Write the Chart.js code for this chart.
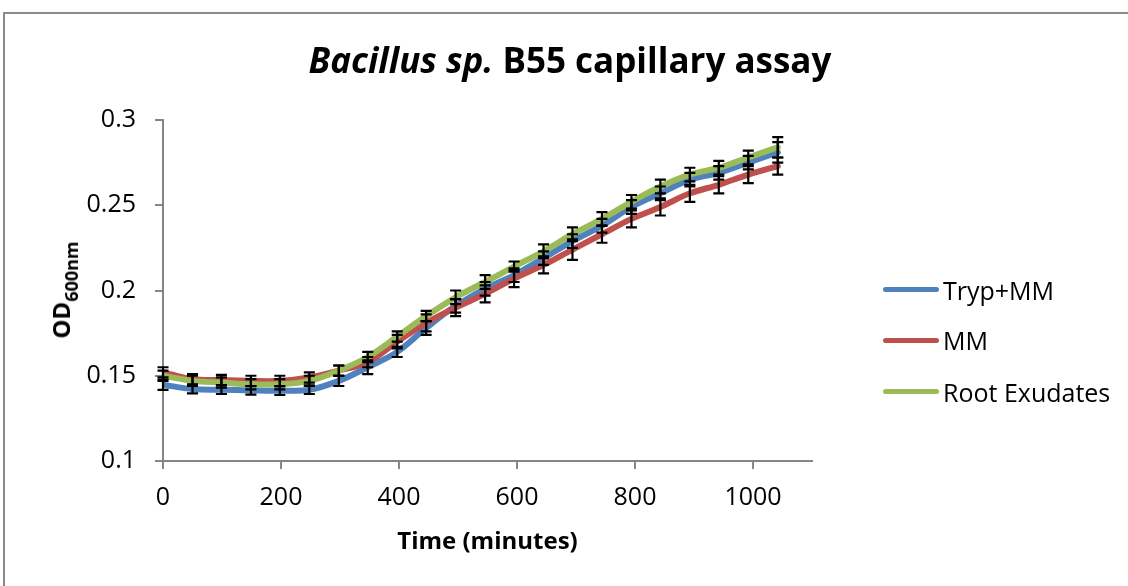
<!DOCTYPE html>
<html>
<head>
<meta charset="utf-8">
<title>Bacillus sp. B55 capillary assay</title>
<script src="https://cdn.jsdelivr.net/npm/chart.js@4.4.1/dist/chart.umd.min.js"></script>
<style>
  html, body { margin: 0; padding: 0; background: #fff; }
  body { width: 1128px; height: 586px; overflow: hidden; position: relative; font-family: 'Open Sans', sans-serif; color: #000; }
  #frame { position: absolute; left: 3px; top: 12px; width: 1200px; height: 700px; border: 2px solid #8a8a8a; box-sizing: border-box; }
  #wrap { position: absolute; left: 0; top: 0; width: 1128px; height: 586px; }
  #title { position: absolute; left: 0; top: 40px; width: 1140px; text-align: center; font-size: 35px; font-weight: bold; line-height: 40px; white-space: nowrap; }
  #ytitle { position: absolute; left: 62px; top: 290px; transform: translate(-50%, -50%) rotate(-90deg); font-size: 24px; font-weight: bold; line-height: 30px; white-space: nowrap; }
  #ytitle span { font-size: 18px; position: relative; top: 8px; }
  .item { position: absolute; left: 883px; height: 40px; display: flex; align-items: center; font-size: 25px; line-height: 40px; white-space: nowrap; }
  .item i { display: inline-block; width: 56px; height: 5px; border-radius: 3px; margin-right: 4px; }
</style>
</head>
<body>
<div id="frame"></div>
<div id="wrap"><canvas id="chart"></canvas></div>
<div id="title"><i>Bacillus sp.</i> B55 capillary assay</div>
<div id="ytitle">OD<span>600nm</span></div>
<div id="legend"></div>
<script>
// Temps de mesure (minutes)
const times = [0, 50, 99, 149, 198, 248, 298, 347, 397, 446, 496, 546, 595, 645, 694, 744, 794, 843, 893, 942, 992, 1042];

// Series (OD600nm)
const trypMM = [0.1447, 0.1422, 0.1418, 0.1414, 0.1412, 0.1418, 0.147, 0.155, 0.164, 0.178, 0.191, 0.201, 0.209, 0.219, 0.229, 0.238, 0.249, 0.257, 0.265, 0.269, 0.275, 0.281];
const mm = [0.152, 0.148, 0.1475, 0.147, 0.147, 0.149, 0.153, 0.158, 0.170, 0.181, 0.190, 0.198, 0.207, 0.215, 0.224, 0.233, 0.242, 0.249, 0.257, 0.262, 0.268, 0.273];
const rootExudates = [0.150, 0.147, 0.146, 0.145, 0.145, 0.147, 0.153, 0.161, 0.173, 0.185, 0.196, 0.205, 0.214, 0.223, 0.233, 0.242, 0.252, 0.261, 0.268, 0.272, 0.278, 0.284];

// Barres d'erreur (+/-)
const trypErr = [0.003, 0.0025, 0.0025, 0.0025, 0.0025, 0.0025, 0.003, 0.004, 0.003, 0.004, 0.004, 0.004, 0.004, 0.004, 0.004, 0.004, 0.004, 0.004, 0.004, 0.004, 0.004, 0.006];
const mmErr = [0.003, 0.003, 0.003, 0.003, 0.003, 0.003, 0.003, 0.003, 0.004, 0.005, 0.005, 0.005, 0.005, 0.005, 0.006, 0.005, 0.005, 0.005, 0.005, 0.005, 0.005, 0.005];
const rootErr = [0.003, 0.003, 0.003, 0.003, 0.003, 0.003, 0.003, 0.003, 0.003, 0.003, 0.004, 0.004, 0.003, 0.004, 0.004, 0.004, 0.004, 0.004, 0.004, 0.004, 0.004, 0.006];

const seriesNames = ['Tryp+MM', 'MM', 'Root Exudates'];
const seriesColors = ['#4F81BD', '#C0504D', '#9BBB59'];

const xTicks = [0, 200, 400, 600, 800, 1000];
const yTicks = [0.1, 0.15, 0.2, 0.25, 0.3];

Chart.defaults.font.family = "'Open Sans', sans-serif";
Chart.defaults.color = '#000';

function toPoints(values) {
    return values.map((v, i) => ({ x: times[i], y: v }));
}

// Plugin: barres d'erreur noires avec petits traits
const errorBars = {
    id: 'errorBars',
    afterDatasetsDraw(chart) {
        const ctx = chart.ctx;
        const xs = chart.scales.x;
        const ys = chart.scales.y;
        ctx.save();
        ctx.strokeStyle = '#000';
        ctx.lineWidth = 2.2;
        chart.data.datasets.forEach((ds, i) => {
            if (!chart.isDatasetVisible(i)) return;
            ds.data.forEach((pt, j) => {
                const e = ds.errors[j];
                const x = xs.getPixelForValue(pt.x);
                const top = ys.getPixelForValue(pt.y + e);
                const bot = ys.getPixelForValue(pt.y - e);
                ctx.beginPath();
                ctx.moveTo(x, top); ctx.lineTo(x, bot);
                ctx.moveTo(x - 5.5, top); ctx.lineTo(x + 5.5, top);
                ctx.moveTo(x - 5.5, bot); ctx.lineTo(x + 5.5, bot);
                ctx.stroke();
            });
        });
        ctx.restore();
    }
};

const values = [trypMM, mm, rootExudates];
const errors = [trypErr, mmErr, rootErr];

const ctx = document.getElementById('chart').getContext('2d');
new Chart(ctx, {
    type: 'line',
    data: {
        datasets: seriesNames.map((name, i) => ({
            label: name,
            data: toPoints(values[i]),
            errors: errors[i],
            borderColor: seriesColors[i],
            backgroundColor: seriesColors[i],
            borderWidth: 6,
            borderCapStyle: 'round',
            pointRadius: 0,
            tension: 0.35,
            order: 2 - i
        }))
    },
    options: {
        responsive: true,
        maintainAspectRatio: false,
        animation: false,
        layout: { padding: { left: 0, top: 120, right: 316, bottom: 0 } },
        plugins: {
            legend: { display: false },
            tooltip: { enabled: false }
        },
        scales: {
            x: {
                type: 'linear',
                min: 0,
                max: 1100,
                afterFit: scale => { scale.height = 125; },
                afterBuildTicks: scale => { scale.ticks = xTicks.map(v => ({ value: v })); },
                ticks: { font: { size: 25 }, padding: 14, color: '#000', callback: v => String(v) },
                grid: { drawOnChartArea: false, drawTicks: true, tickLength: 8, color: '#868686', lineWidth: 2 },
                border: { color: '#868686', width: 2 },
                title: { display: true, text: 'Time (minutes)', font: { size: 24, weight: 'bold' }, padding: { top: 0, bottom: 29 } }
            },
            y: {
                min: 0.1,
                max: 0.3,
                afterFit: scale => { scale.width = 163; },
                afterBuildTicks: scale => { scale.ticks = yTicks.map(v => ({ value: v })); },
                ticks: { font: { size: 25 }, padding: 19, color: '#000', callback: v => String(v) },
                grid: { drawOnChartArea: false, drawTicks: true, tickLength: 8, color: '#868686', lineWidth: 2 },
                border: { color: '#868686', width: 2 }
            }
        }
    },
    plugins: [errorBars]
});

// Legende
const legend = document.getElementById('legend');
const rowCenters = [289.5, 340, 391.5];
seriesNames.forEach((name, i) => {
    const row = document.createElement('div');
    row.className = 'item';
    row.style.top = (rowCenters[i] - 20) + 'px';
    row.innerHTML = '<i style="background:' + seriesColors[i] + '"></i>' + name;
    legend.appendChild(row);
});
</script>
</body>
</html>
